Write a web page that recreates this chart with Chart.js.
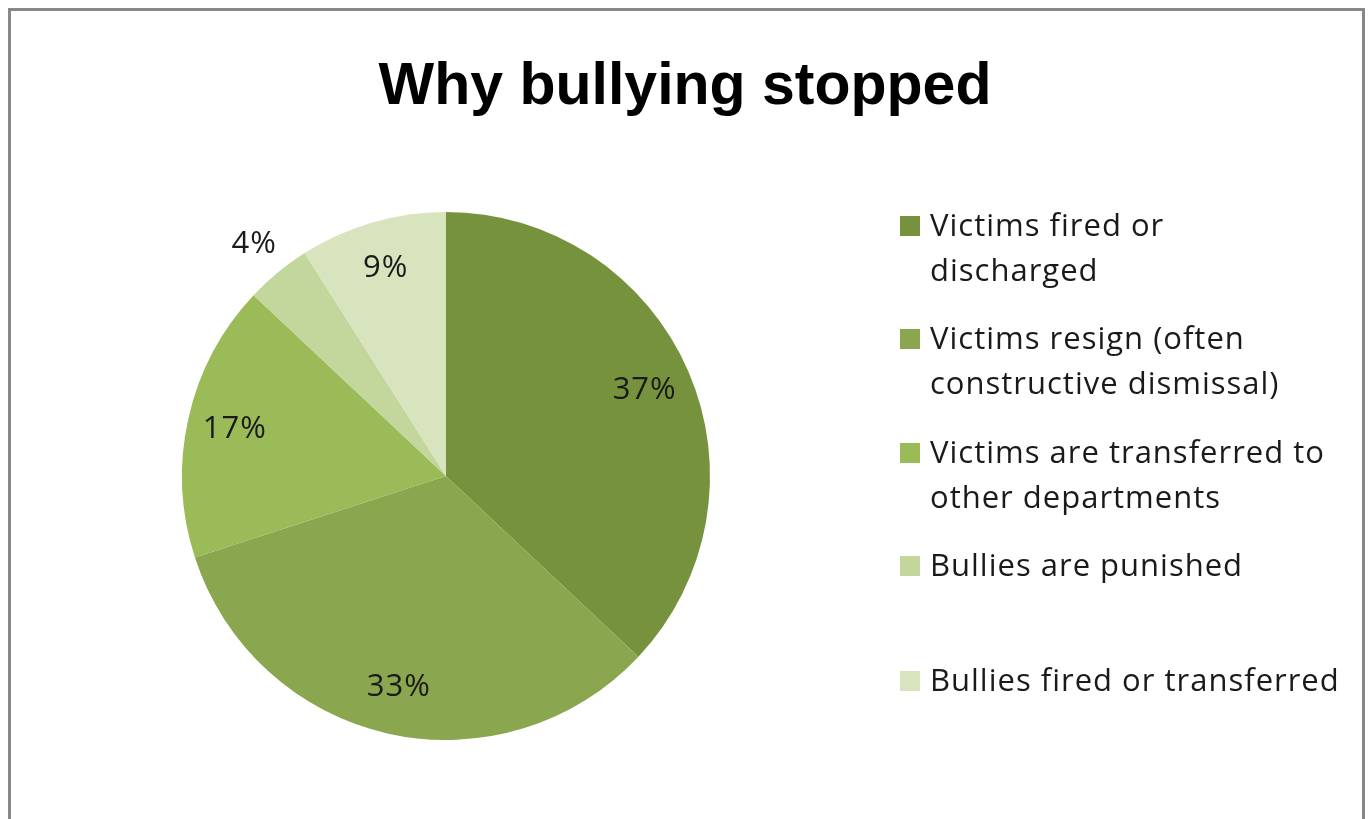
<!DOCTYPE html>
<html lang="en">
<head>
  <meta charset="UTF-8">
  <title>Why bullying stopped</title>
  <script src="https://cdn.jsdelivr.net/npm/chart.js"></script>
  <style>
    body {
      margin: 0;
      width: 1370px;
      height: 819px;
      background: #ffffff;
      overflow: hidden;
      font-family: "Open Sans", "Liberation Sans", Arial, sans-serif;
      position: relative;
    }
    /* marco gris del gráfico */
    .frame {
      position: absolute;
      left: 8px;
      top: 8px;
      width: 1351px;
      height: 900px;
      border: 3px solid #888888;
    }
    h1 {
      position: absolute;
      top: 50px;
      left: 0;
      width: 1370px;
      margin: 0;
      text-align: center;
      font-family: "Liberation Sans", Arial, sans-serif;
      font-size: 59px;
      font-weight: bold;
      color: #000;
    }
    #chart {
      position: absolute;
      left: 0;
      top: 0;
    }
    .legend {
      position: absolute;
      left: 900px;
      top: 0;
      color: #1a1a1a;
      font-size: 31px;
      letter-spacing: 1px;
    }
    .legend .item {
      position: absolute;
      left: 0;
      width: 460px;
      line-height: 45px;
      white-space: nowrap;
    }
    .legend .box {
      position: absolute;
      left: 0;
      top: 14px;
      width: 20px;
      height: 20px;
    }
    .legend .text {
      margin-left: 30px;
    }
  </style>
</head>
<body>
  <div class="frame"></div>
  <h1>Why bullying stopped</h1>
  <canvas id="chart" width="1370" height="819"></canvas>
  <div class="legend" id="legend"></div>

  <script>
    // Datos del gráfico
    const categories = [
      ["Victims fired or", "discharged"],
      ["Victims resign (often", "constructive dismissal)"],
      ["Victims are transferred to", "other departments"],
      ["Bullies are punished"],
      ["Bullies fired or transferred"]
    ];
    const values = [37, 33, 17, 4, 9];
    const colors = ["#76923c", "#8aa64e", "#9bbb59", "#c3d69b", "#d7e4bd"];

    // posiciones verticales de las entradas de la leyenda
    const legendTops = [202, 315, 429, 542, 657];

    // Leyenda en HTML
    const legend = document.getElementById("legend");
    categories.forEach((lines, i) => {
      const item = document.createElement("div");
      item.className = "item";
      item.style.top = legendTops[i] + "px";
      item.innerHTML = '<div class="box" style="background:' + colors[i] + '"></div>' +
        '<div class="text">' + lines.join("<br>") + '</div>';
      legend.appendChild(item);
    });

    // Etiquetas de porcentaje (el 4% va fuera del sector)
    const pctLabels = {
      id: "pctLabels",
      afterDatasetsDraw(chart) {
        const ctx = chart.ctx;
        const meta = chart.getDatasetMeta(0);
        ctx.save();
        ctx.font = "31px 'Open Sans', 'Liberation Sans', Arial, sans-serif";
        ctx.letterSpacing = "1px";
        ctx.fillStyle = "#1a1a1a";
        ctx.textAlign = "center";
        ctx.textBaseline = "middle";
        meta.data.forEach((arc, i) => {
          const p = arc.getProps(["x", "y", "startAngle", "endAngle", "outerRadius"], true);
          const mid = (p.startAngle + p.endAngle) / 2;
          const r = values[i] < 5 ? p.outerRadius * 1.14 : p.outerRadius * 0.82;
          ctx.fillText(values[i] + "%", p.x + Math.cos(mid) * r, p.y + Math.sin(mid) * r);
        });
        ctx.restore();
      }
    };

    const ctx = document.getElementById("chart").getContext("2d");
    const myChart = new Chart(ctx, {
      type: "pie",
      data: {
        labels: categories.map(l => l.join(" ")),
        datasets: [{
          data: values,
          backgroundColor: colors,
          borderWidth: 0
        }]
      },
      options: {
        responsive: false,
        animation: false,
        layout: {
          padding: { left: 182, right: 660, top: 212, bottom: 79 }
        },
        plugins: {
          legend: { display: false },
          tooltip: { enabled: false },
          title: { display: false }
        }
      },
      plugins: [pctLabels]
    });
  </script>
</body>
</html>
